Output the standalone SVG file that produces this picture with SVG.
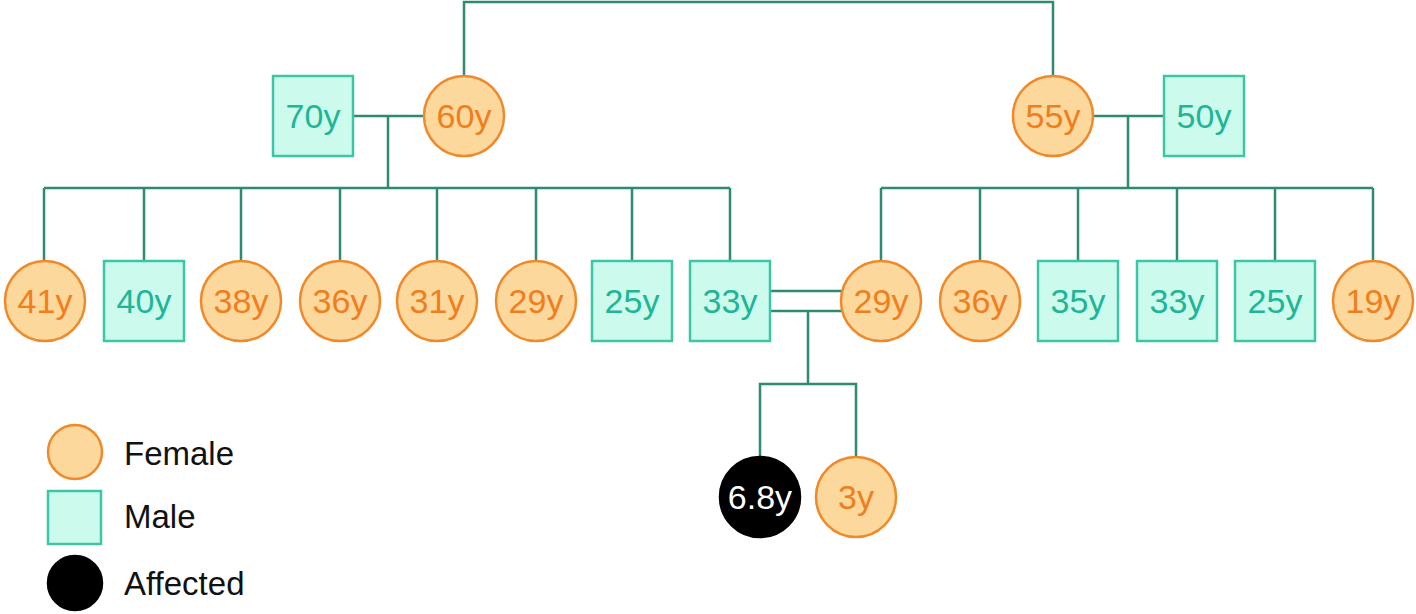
<svg xmlns="http://www.w3.org/2000/svg" width="1416" height="614" viewBox="0 0 1416 614">
<style>
.f{fill:#FDD89C;stroke:#F0892A;stroke-width:2.5}
.m{fill:#CCFBEE;stroke:#3DC6A6;stroke-width:2.5}
.a{fill:#000;stroke:#000;stroke-width:2.5}
.tf{font-family:"Liberation Sans",Arial,sans-serif;font-size:34px;fill:#F07E1C;text-anchor:middle}
.tm{font-family:"Liberation Sans",Arial,sans-serif;font-size:34px;fill:#1FB595;text-anchor:middle}
.ta{font-family:"Liberation Sans",Arial,sans-serif;font-size:34px;fill:#fff;text-anchor:middle}
.lg{font-family:"Liberation Sans",Arial,sans-serif;font-size:33px;fill:#111}
.c{fill:none;stroke:#2E8B72;stroke-width:2.5}
</style>
<rect width="1416" height="614" fill="#fff"/>
<g id="connectors">
<polyline class="c" points="464,75 464,2 1053,2 1053,76"/>
<line class="c" x1="353" y1="116" x2="424" y2="116"/>
<line class="c" x1="388" y1="116" x2="388" y2="188"/>
<line class="c" x1="44" y1="188" x2="730" y2="188"/>
<line class="c" x1="44" y1="188" x2="44" y2="261"/>
<line class="c" x1="144" y1="188" x2="144" y2="261"/>
<line class="c" x1="241" y1="188" x2="241" y2="261"/>
<line class="c" x1="340" y1="188" x2="340" y2="261"/>
<line class="c" x1="437" y1="188" x2="437" y2="261"/>
<line class="c" x1="536" y1="188" x2="536" y2="261"/>
<line class="c" x1="632" y1="188" x2="632" y2="261"/>
<line class="c" x1="730" y1="188" x2="730" y2="261"/>
<line class="c" x1="1093" y1="116" x2="1163" y2="116"/>
<line class="c" x1="1128" y1="116" x2="1128" y2="188"/>
<line class="c" x1="881" y1="188" x2="1373" y2="188"/>
<line class="c" x1="881" y1="188" x2="881" y2="261"/>
<line class="c" x1="980" y1="188" x2="980" y2="261"/>
<line class="c" x1="1078" y1="188" x2="1078" y2="261"/>
<line class="c" x1="1177" y1="188" x2="1177" y2="261"/>
<line class="c" x1="1275" y1="188" x2="1275" y2="261"/>
<line class="c" x1="1373" y1="188" x2="1373" y2="261"/>
<line class="c" x1="770" y1="291" x2="843" y2="291"/>
<line class="c" x1="770" y1="311" x2="843" y2="311"/>
<line class="c" x1="808" y1="311" x2="808" y2="384"/>
<polyline class="c" points="760,457 760,384 856,384 856,457"/>
</g>
<g id="n70"><rect class="m" x="273" y="76" width="80" height="80"/><text class="tm" x="313" y="128">70y</text></g>
<g id="n60"><circle class="f" cx="464" cy="116" r="40"/><text class="tf" x="464" y="128">60y</text></g>
<g id="n55"><circle class="f" cx="1053" cy="116" r="40"/><text class="tf" x="1053" y="128">55y</text></g>
<g id="n50"><rect class="m" x="1164" y="76" width="80" height="80"/><text class="tm" x="1204" y="128">50y</text></g>
<g id="c41"><circle class="f" cx="45" cy="301" r="40"/><text class="tf" x="45" y="313">41y</text></g>
<g id="c40"><rect class="m" x="104" y="261" width="80" height="80"/><text class="tm" x="144" y="313">40y</text></g>
<g id="c38"><circle class="f" cx="241" cy="301" r="40"/><text class="tf" x="241" y="313">38y</text></g>
<g id="c36a"><circle class="f" cx="340" cy="301" r="40"/><text class="tf" x="340" y="313">36y</text></g>
<g id="c31"><circle class="f" cx="437" cy="301" r="40"/><text class="tf" x="437" y="313">31y</text></g>
<g id="c29a"><circle class="f" cx="536" cy="301" r="40"/><text class="tf" x="536" y="313">29y</text></g>
<g id="c25a"><rect class="m" x="592" y="261" width="80" height="80"/><text class="tm" x="632" y="313">25y</text></g>
<g id="c33a"><rect class="m" x="690" y="261" width="80" height="80"/><text class="tm" x="730" y="313">33y</text></g>
<g id="c29b"><circle class="f" cx="881" cy="301" r="40"/><text class="tf" x="881" y="313">29y</text></g>
<g id="c36b"><circle class="f" cx="980" cy="301" r="40"/><text class="tf" x="980" y="313">36y</text></g>
<g id="c35"><rect class="m" x="1038" y="261" width="80" height="80"/><text class="tm" x="1078" y="313">35y</text></g>
<g id="c33b"><rect class="m" x="1137" y="261" width="80" height="80"/><text class="tm" x="1177" y="313">33y</text></g>
<g id="c25b"><rect class="m" x="1235" y="261" width="80" height="80"/><text class="tm" x="1275" y="313">25y</text></g>
<g id="c19"><circle class="f" cx="1373" cy="301" r="40"/><text class="tf" x="1373" y="313">19y</text></g>
<g id="g68"><circle class="a" cx="760" cy="497" r="40"/><text class="ta" x="760" y="509">6.8y</text></g>
<g id="g3"><circle class="f" cx="856" cy="497" r="40"/><text class="tf" x="856" y="509">3y</text></g>
<g id="legend">
<circle class="f" cx="75" cy="452" r="27"/><text class="lg" x="124" y="465">Female</text>
<rect class="m" x="48" y="491" width="53" height="53"/><text class="lg" x="124" y="528">Male</text>
<circle class="a" cx="75" cy="583" r="27"/><text class="lg" x="124" y="595">Affected</text>
</g>
</svg>
